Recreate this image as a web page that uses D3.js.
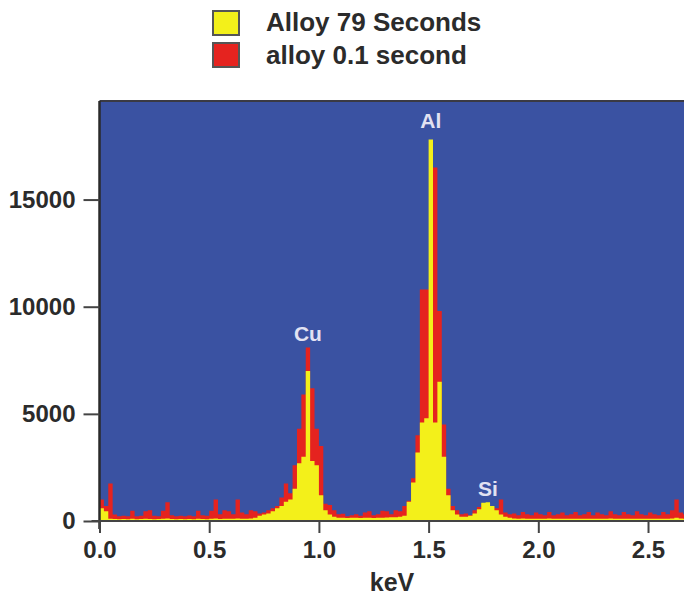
<!DOCTYPE html>
<html><head><meta charset="utf-8">
<script src="https://cdn.jsdelivr.net/npm/d3@7"></script>
<style>
html,body{margin:0;padding:0;background:#fff;}
svg{display:block;}
text{font-family:"Liberation Sans",Arial,sans-serif;}
</style></head>
<body><div id="chart"></div>
<script>
// Channel start energies (keV), step 0.02
const channelStart = 0.0;
const channelWidth = 0.02;
const seriesNames = ["Alloy 79 Seconds", "alloy 0.1 second"];
// counts per channel, alloy 0.1 second (red, behind)
const red = [
 1000,700,1750,300,220,240,220,480,220,240,
 460,500,240,220,480,880,270,220,240,220,
 260,220,480,270,240,480,1000,320,500,450,
 320,1000,400,320,500,450,350,400,500,600,
 700,1100,1750,1300,2600,4300,5900,8100,6200,4300,
 3500,800,750,500,320,340,220,270,320,240,
 400,450,270,320,480,450,320,500,450,700,
 950,2000,4000,10800,10800,10800,16500,9800,4500,1500,
 700,500,320,350,270,500,650,800,700,650,
 600,1000,400,320,350,270,420,320,270,400,
 320,270,420,270,320,400,270,320,420,270,
 320,420,270,400,320,270,450,320,270,420,
 320,270,450,320,270,400,320,270,420,320,
 500,1000,400,320
];
// counts per channel, Alloy 79 Seconds (yellow, front)
const yellow = [
 600,450,100,90,80,90,80,100,80,90,
 100,90,80,90,100,120,90,80,90,80,
 90,80,100,90,80,100,120,90,100,110,
 100,120,110,100,120,150,250,300,350,450,
 600,700,900,1000,1500,2700,3000,7000,2800,2600,
 1200,500,300,200,150,150,140,150,150,140,
 150,150,140,150,150,160,170,180,200,250,
 900,1800,3200,4600,4800,17800,4600,6500,3000,1200,
 500,300,200,200,250,350,550,850,880,700,
 500,300,200,150,120,110,120,110,100,110,
 100,110,120,100,110,100,110,100,110,100,
 110,100,110,100,110,100,120,100,110,100,
 110,100,110,100,110,100,110,100,110,100,
 120,150,120,100
];
const xTicks = [0.0, 0.5, 1.0, 1.5, 2.0, 2.5];
const yTicks = [0, 5000, 10000, 15000];
const peakLabels = ["Cu", "Al", "Si"];
const peakEnergies = [0.95, 1.51, 1.77];
const peakLabelCounts = [8400, 18340, 1170];

(function () {
const W = 684, H = 603;
const pL = 99.5, pT = 101, pB = 521, pR = 684;
const x = d3.scaleLinear().domain([0, 2.664]).range([pL, pR]);
const y = d3.scaleLinear().domain([0, 19600]).range([pB, pT]);

const svg = d3.select("#chart").append("svg").attr("width", W).attr("height", H);

svg.append("rect").attr("x", pL).attr("y", pT).attr("width", pR - pL + 10).attr("height", pB - pT)
  .attr("fill", "#3a52a2");

svg.append("clipPath").attr("id", "pc").append("rect")
  .attr("x", pL).attr("y", pT).attr("width", pR - pL + 10).attr("height", pB - pT);

function toPts(arr) {
  const pts = arr.map((v, i) => [channelStart + i * channelWidth, v]);
  pts.push([channelStart + arr.length * channelWidth, arr[arr.length - 1]]);
  return pts;
}
const area = d3.area().x(d => x(d[0])).y0(y(0)).y1(d => y(d[1])).curve(d3.curveStepAfter);

const g = svg.append("g").attr("clip-path", "url(#pc)");
g.append("path").datum(toPts(red)).attr("d", area).attr("fill", "#e5231f");
g.append("path").datum(toPts(yellow)).attr("d", area).attr("fill", "#f3f01a");

g.selectAll("text.pk").data(peakLabels).enter().append("text")
  .attr("class", "pk")
  .attr("x", (d, i) => x(peakEnergies[i]))
  .attr("y", (d, i) => y(peakLabelCounts[i]))
  .attr("text-anchor", "middle")
  .attr("font-size", 21).attr("font-weight", "bold")
  .attr("fill", "#e2e2f2")
  .text(d => d);

svg.append("line").attr("x1", pL).attr("x2", W).attr("y1", pT).attr("y2", pT)
  .attr("stroke", "#3a3a44").attr("stroke-width", 2);

const yAxis = d3.axisLeft(y).tickValues(yTicks).tickSize(16).tickPadding(8).tickFormat(d3.format("d"));
const ya = svg.append("g").attr("transform", `translate(${pL},0)`).call(yAxis);
ya.select(".domain").attr("d", `M0,${pT}V${pB + 8}`).attr("stroke", "#2a2a2a").attr("stroke-width", 2.5);
ya.selectAll(".tick line").attr("stroke", "#444").attr("stroke-width", 2);
ya.selectAll(".tick text").attr("font-size", 24).attr("font-weight", "bold").attr("fill", "#2b2b2b")
  .attr("font-family", "Liberation Sans, Arial, sans-serif");

const xAxis = d3.axisBottom(x).tickValues(xTicks).tickSize(12).tickPadding(8).tickFormat(d3.format(".1f"));
const xa = svg.append("g").attr("transform", `translate(0,${pB})`).call(xAxis);
xa.select(".domain").attr("d", `M${pL - 8},0H${W}`).attr("stroke", "#444").attr("stroke-width", 2);
xa.selectAll(".tick line").attr("stroke", "#444").attr("stroke-width", 2);
xa.selectAll(".tick text").attr("font-size", 24).attr("font-weight", "bold").attr("fill", "#2b2b2b")
  .attr("font-family", "Liberation Sans, Arial, sans-serif");

svg.append("text").attr("x", 392).attr("y", 591).attr("text-anchor", "middle")
  .attr("font-size", 25).attr("font-weight", "bold").attr("fill", "#2b2b2b").text("keV");

const legendColors = ["#f3f01a", "#e5231f"];
const lg = svg.append("g");
seriesNames.forEach((n, i) => {
  lg.append("rect").attr("x", 213).attr("y", 11 + i * 32).attr("width", 26).attr("height", 24)
    .attr("fill", legendColors[i]).attr("stroke", "#555").attr("stroke-width", 2);
  lg.append("text").attr("x", 266).attr("y", 31 + i * 33).attr("font-size", 26).attr("font-weight", "bold")
    .attr("fill", "#2b2b2b").text(n);
});
})();
</script></body></html>
